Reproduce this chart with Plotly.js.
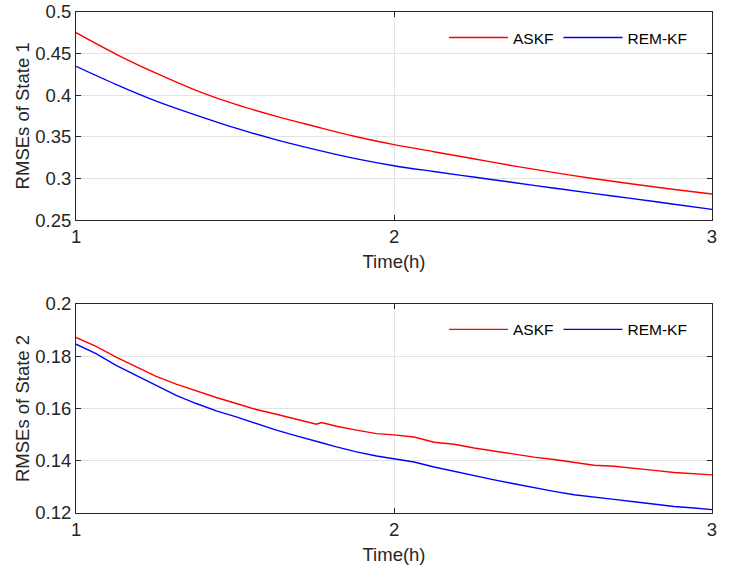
<!DOCTYPE html>
<html>
<head>
<meta charset="utf-8">
<script src="https://cdn.plot.ly/plotly-3.0.1.min.js"></script>
<style>
html,body{margin:0;padding:0;background:#fff;}
#chart{width:729px;height:573px;}
</style>
</head>
<body>
<div id="chart"></div>
<script>
// ---- data ----
const timeTop = [1, 1.125, 1.25, 1.375, 1.5, 1.625, 1.75, 1.875, 2, 2.125, 2.25, 2.375, 2.5, 2.625, 2.75, 2.875, 3];
const askfState1 = [0.4748, 0.4492, 0.4265, 0.4060, 0.3890, 0.3750, 0.3625, 0.3505, 0.3405, 0.3320, 0.3235, 0.3150, 0.3072, 0.2998, 0.2932, 0.2870, 0.2812];
const remkfState1 = [0.4344, 0.4128, 0.3930, 0.3762, 0.3605, 0.3468, 0.3348, 0.3240, 0.3152, 0.3082, 0.3016, 0.2950, 0.2885, 0.2820, 0.2757, 0.2692, 0.2628];

const timeBottom = [1, 1.063, 1.126, 1.189, 1.252, 1.315, 1.378, 1.441, 1.504, 1.567, 1.63, 1.693, 1.756, 1.772, 1.819, 1.882, 1.945,
  2, 2.063, 2.126, 2.189, 2.252, 2.315, 2.377, 2.44, 2.503, 2.566, 2.629, 2.692, 2.755, 2.818, 2.881, 2.944, 3];
const askfState2 = [0.1872, 0.1838, 0.1797, 0.1759, 0.1723, 0.1693, 0.1667, 0.1642, 0.1619, 0.1596, 0.1578, 0.1558, 0.1540, 0.1546, 0.1532, 0.1517, 0.1504,
  0.1499, 0.1491, 0.1471, 0.1463, 0.1449, 0.1437, 0.1427, 0.1414, 0.1405, 0.1394, 0.1383, 0.1379, 0.1372, 0.1363, 0.1355, 0.1349, 0.1346];
const remkfState2 = [0.1846, 0.1810, 0.1765, 0.1727, 0.1687, 0.1650, 0.1619, 0.1591, 0.1568, 0.1542, 0.1517, 0.1495, 0.1472, 0.1469, 0.1453, 0.1434, 0.1418,
  0.1406, 0.1395, 0.1376, 0.1359, 0.1342, 0.1327, 0.1312, 0.1297, 0.1283, 0.1270, 0.1260, 0.1252, 0.1243, 0.1234, 0.1225, 0.1219, 0.1213];

const seriesNames = ['ASKF', 'REM-KF'];
const xTickVals = [1, 2, 3];
const xTickText = ['1', '2', '3'];
const yTopTickVals = [0.25, 0.3, 0.35, 0.4, 0.45, 0.5];
const yTopTickText = ['0.25', '0.3', '0.35', '0.4', '0.45', '0.5'];
const yBotTickVals = [0.12, 0.14, 0.16, 0.18, 0.2];
const yBotTickText = ['0.12', '0.14', '0.16', '0.18', '0.2'];
const xTitle = 'Time(h)';
const yTopTitle = 'RMSEs of State 1';
const yBotTitle = 'RMSEs of State 2';

// ---- styling ----
const FONT = '"Liberation Sans", Arial, Helvetica, sans-serif';
const TXT = '#262626';
const AX = '#262626';
const GRID = '#e3e3e3';
const RED = '#ff0000';
const BLUE = '#0000ff';
const FS = 18.5;

function xAxis(anchor) {
  return {
    anchor: anchor, domain: [0.1043, 0.9767], range: [1, 3],
    tickvals: xTickVals, ticktext: xTickText,
    ticks: 'inside', ticklen: 5, tickwidth: 1, tickcolor: AX,
    showline: true, linecolor: AX, linewidth: 1, mirror: 'ticks',
    showgrid: true, gridcolor: GRID, gridwidth: 1, zeroline: false,
    tickfont: {family: FONT, size: FS, color: TXT},
    title: {text: xTitle, font: {family: FONT, size: FS, color: TXT}, standoff: 8},
    automargin: false, fixedrange: true
  };
}
function yAxis(anchor, domain, range, tv, tt, title) {
  return {
    anchor: anchor, domain: domain, range: range,
    tickvals: tv, ticktext: tt,
    ticks: 'inside', ticklen: 5, tickwidth: 1, tickcolor: AX,
    showline: true, linecolor: AX, linewidth: 1, mirror: 'ticks',
    showgrid: true, gridcolor: GRID, gridwidth: 1, zeroline: false,
    tickfont: {family: FONT, size: FS, color: TXT},
    title: {text: title, font: {family: FONT, size: FS, color: TXT}},
    automargin: false, fixedrange: true
  };
}

const traces = [
  {x: timeTop, y: askfState1, name: seriesNames[0], type: 'scatter', mode: 'lines', xaxis: 'x', yaxis: 'y', legend: 'legend',
   line: {color: RED, width: 1.4, shape: 'spline', smoothing: 1}},
  {x: timeTop, y: remkfState1, name: seriesNames[1], type: 'scatter', mode: 'lines', xaxis: 'x', yaxis: 'y', legend: 'legend',
   line: {color: BLUE, width: 1.4, shape: 'spline', smoothing: 1}},
  {x: timeBottom, y: askfState2, name: seriesNames[0], type: 'scatter', mode: 'lines', xaxis: 'x2', yaxis: 'y2', legend: 'legend2',
   line: {color: RED, width: 1.4}},
  {x: timeBottom, y: remkfState2, name: seriesNames[1], type: 'scatter', mode: 'lines', xaxis: 'x2', yaxis: 'y2', legend: 'legend2',
   line: {color: BLUE, width: 1.4}}
];

const legendBase = {
  orientation: 'h', xanchor: 'left', yanchor: 'middle',
  bgcolor: 'rgba(255,255,255,0)', borderwidth: 0,
  font: {family: FONT, size: 15.5, color: '#000'},
  itemwidth: 59, traceorder: 'normal'
};

const layout = {
  width: 729, height: 573,
  margin: {l: 0, r: 0, t: 0, b: 0},
  paper_bgcolor: '#fff', plot_bgcolor: '#fff',
  showlegend: true,
  xaxis: xAxis('y'),
  yaxis: yAxis('x', [0.616, 0.9796], [0.25, 0.5], yTopTickVals, yTopTickText, yTopTitle),
  xaxis2: xAxis('y2'),
  yaxis2: yAxis('x2', [0.1047, 0.4695], [0.12, 0.2], yBotTickVals, yBotTickText, yBotTitle),
  legend: Object.assign({}, legendBase, {x: 0.609, y: 0.9337}),
  legend2: Object.assign({}, legendBase, {x: 0.609, y: 0.4245})
};

Plotly.newPlot('chart', traces, layout, {displayModeBar: false, staticPlot: true});
</script>
</body>
</html>
